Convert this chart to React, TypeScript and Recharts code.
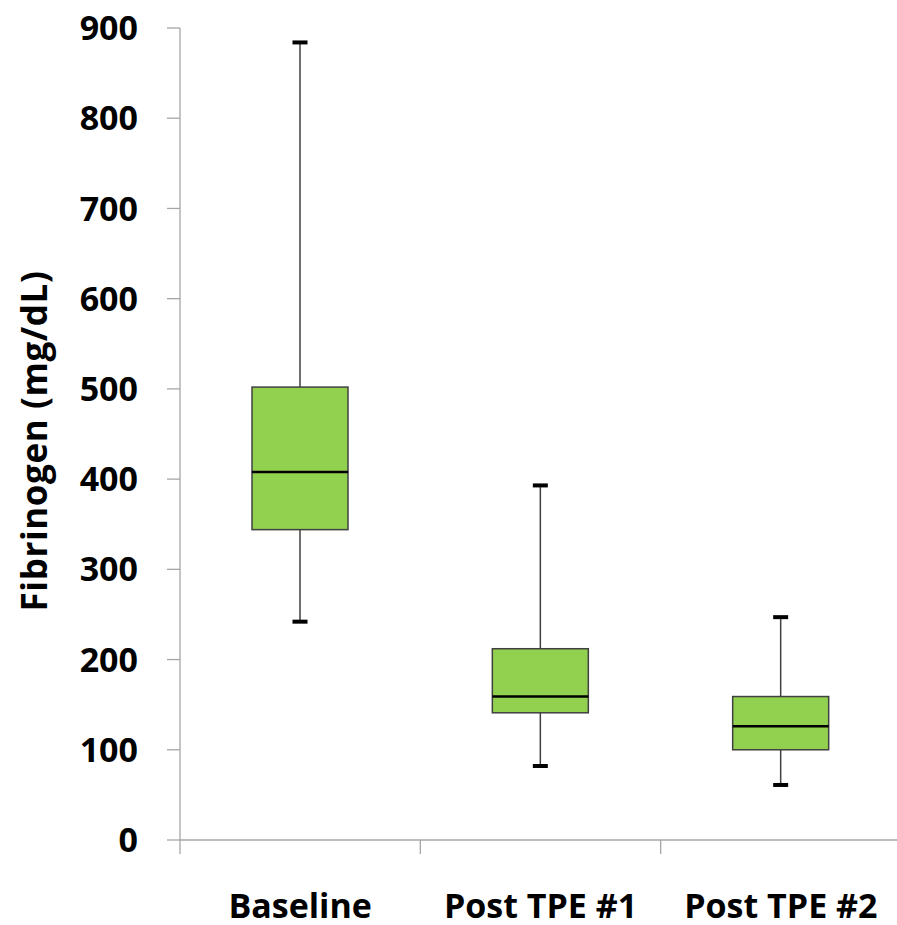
import { ComposedChart, Bar, XAxis, YAxis } from "recharts";

const categories = ["Baseline", "Post TPE #1", "Post TPE #2"];
const mins = [242, 82, 61];
const q1s = [344, 141, 100];
const medians = [408, 159, 126];
const q3s = [502, 212, 159];
const maxs = [884, 393, 247];
const yTicks = [0, 100, 200, 300, 400, 500, 600, 700, 800, 900];

const data = categories.map((name, i) => ({
  name,
  min: mins[i],
  q1: q1s[i],
  median: medians[i],
  q3: q3s[i],
  max: maxs[i],
}));

const AXIS = "#A6A6A6";
const FONT = "'Open Sans', sans-serif";

// box drawn from the [min, max] range bar that recharts lays out
function BoxShape(props: any) {
  const { x, y, width, height, payload } = props;
  const { min, q1, median, q3, max } = payload;
  const k = height / (max - min);
  const py = (v: number) => y + (max - v) * k;
  const cx = x + width / 2;
  const capW = 15;
  return (
    <g>
      <line x1={cx} x2={cx} y1={py(max)} y2={py(q3)} stroke="#404040" strokeWidth={1.5} />
      <line x1={cx} x2={cx} y1={py(q1)} y2={py(min)} stroke="#404040" strokeWidth={1.5} />
      <line x1={cx - capW / 2} x2={cx + capW / 2} y1={py(max)} y2={py(max)} stroke="#000" strokeWidth={4} />
      <line x1={cx - capW / 2} x2={cx + capW / 2} y1={py(min)} y2={py(min)} stroke="#000" strokeWidth={4} />
      <rect x={x} y={py(q3)} width={width} height={py(q1) - py(q3)} fill="#92D050" stroke="#404040" strokeWidth={1.5} />
      <line x1={x} x2={x + width} y1={py(median)} y2={py(median)} stroke="#000" strokeWidth={2.5} />
    </g>
  );
}

// category tick: label in the middle, tick marks at the band edges
function CatTick(props: any) {
  const { x, y, payload, index, visibleTicksCount } = props;
  const half = payload.offset ?? 0;
  const top = y - 54;
  return (
    <g>
      <line x1={x - half} x2={x - half} y1={top} y2={top + 14} stroke={AXIS} strokeWidth={1.3} />
      {index === visibleTicksCount - 1 && (
        <line x1={x + half} x2={x + half} y1={top} y2={top + 14} stroke={AXIS} strokeWidth={1.3} />
      )}
      <text x={x} y={y} dy="0.71em" textAnchor="middle" fontSize={34} fontWeight={700} fill="#000" fontFamily={FONT}>
        {payload.value}
      </text>
    </g>
  );
}

export default function App() {
  return (
    <div style={{ position: "absolute", left: 0, top: 0, width: 897, height: 925, overflow: "hidden", background: "#fff", fontFamily: FONT }}>
      <ComposedChart width={901} height={925} data={data} margin={{ top: 28, right: 0, left: 0, bottom: 0 }}>
        <XAxis
          dataKey="name"
          stroke={AXIS}
          axisLine={{ stroke: AXIS, strokeWidth: 1.3 }}
          tickLine={false}
          tickSize={14}
          tickMargin={40}
          height={85}
          tick={<CatTick />}
          interval={0}
        />
        <YAxis
          domain={[0, 900]}
          ticks={yTicks}
          width={180}
          axisLine={{ stroke: AXIS, strokeWidth: 1.3 }}
          tickLine={{ stroke: AXIS, strokeWidth: 1.3 }}
          tickSize={13}
          tickMargin={29}
          tick={{ fontSize: 34, fontWeight: 700, fill: "#000", fontFamily: FONT }}
          label={{
            value: "Fibrinogen (mg/dL)",
            angle: -90,
            position: "center",
            dx: -55,
            dy: 7,
            style: { fontSize: 35, fontWeight: 700, fill: "#000", fontFamily: FONT, letterSpacing: 0.6 },
          }}
        />
        <Bar
          dataKey={(d: any) => [d.min, d.max]}
          barSize={96}
          shape={<BoxShape />}
          isAnimationActive={false}
        />
      </ComposedChart>
    </div>
  );
}
